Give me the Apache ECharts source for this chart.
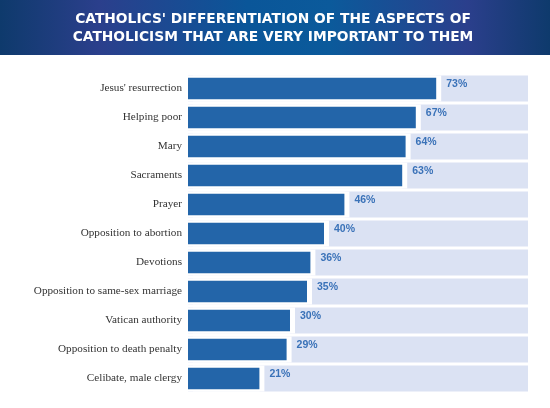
<!DOCTYPE html>
<html>
<head>
<meta charset="utf-8">
<script src="https://cdn.jsdelivr.net/npm/echarts@6/dist/echarts.min.js"></script>
<style>
  html, body { margin: 0; padding: 0; background: #fff; }
  #header {
    position: absolute; left: 0; top: 0; width: 550px; height: 55px;
    background: linear-gradient(to right, #0e3a6c 0%, #2b3f8c 18%, #0a5699 45%, #0b5a9b 60%, #2b3f8c 85%, #0e3a6c 100%);
  }
  #chart { position: absolute; left: 0; top: 0; width: 550px; height: 408px; }
</style>
</head>
<body>
<div id="header"></div>
<div id="chart"></div>
<script>
document.addEventListener("DOMContentLoaded", () => {
  // aspects, top to bottom
  const aspects = [
    "Jesus' resurrection",
    "Helping poor",
    "Mary",
    "Sacraments",
    "Prayer",
    "Opposition to abortion",
    "Devotions",
    "Opposition to same-sex marriage",
    "Vatican authority",
    "Opposition to death penalty",
    "Celibate, male clergy",
  ];
  const veryImportant = [73, 67, 64, 63, 46, 40, 36, 35, 30, 29, 21];
  const trackMax = 100;
  const track = aspects.map(() => trackMax);

  const chart = echarts.init(document.getElementById("chart"), null, { renderer: "canvas" });

  // one hidden category axis per layer so each layer centres on its own band
  const hiddenAxis = { type: "category", data: aspects, inverse: true, show: false };

  chart.setOption({
    backgroundColor: "transparent",
    animation: false,
    title: {
      text: "CATHOLICS' DIFFERENTIATION OF THE ASPECTS OF\nCATHOLICISM THAT ARE VERY IMPORTANT TO THEM",
      left: 268,
      top: 5,
      textAlign: "center",
      textStyle: {
        color: "#fff",
        fontFamily: "DejaVu Sans",
        fontWeight: "bold",
        fontSize: 13.8,
        lineHeight: 18,
      },
    },
    grid: { left: 188, top: 74, width: 340, height: 319 },
    xAxis: {
      type: "value",
      min: 0,
      max: trackMax,
      show: false,
    },
    yAxis: [
      {
        type: "category",
        data: aspects,
        inverse: true,
        axisLine: { show: false },
        axisTick: { show: false },
        axisLabel: {
          margin: 6,
          color: "#333",
          fontFamily: "Liberation Serif",
          fontSize: 11.2,
        },
      },
      hiddenAxis,
      hiddenAxis,
    ],
    series: [
      {
        // light track
        type: "bar",
        yAxisIndex: 0,
        data: track,
        barWidth: 26,
        itemStyle: { color: "#dbe2f3" },
        silent: true,
      },
      {
        // white gap after the blue bar: a hard white shadow pushed 5px right
        type: "bar",
        yAxisIndex: 1,
        data: veryImportant,
        barWidth: 26,
        itemStyle: {
          color: "#fff",
          shadowColor: "#fff",
          shadowBlur: 0,
          shadowOffsetX: 5,
        },
        silent: true,
        z: 2,
      },
      {
        type: "bar",
        yAxisIndex: 2,
        data: veryImportant,
        barWidth: 21.5,
        itemStyle: { color: "#2365a9" },
        label: {
          show: true,
          position: "right",
          distance: 10,
          offset: [0, -4],
          formatter: "{c}%",
          color: "#3a72b8",
          fontFamily: "Liberation Sans",
          fontWeight: "bold",
          fontSize: 10.5,
        },
        z: 3,
      },
    ],
  });
});
</script>
</body>
</html>
